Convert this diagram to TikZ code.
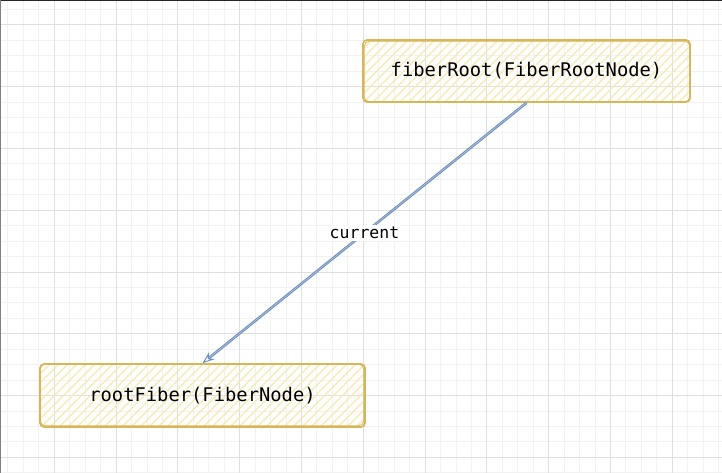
\documentclass[tikz,border=0pt]{standalone}
\usepackage{fontspec}
\setmonofont{DejaVu Sans Mono}
\usetikzlibrary{arrows.meta,calc}
\definecolor{gridminor}{HTML}{F2F2F2}
\definecolor{gridmajor}{HTML}{DFDFDF}
\definecolor{noteline}{HTML}{D6B656}
\definecolor{notehatch}{HTML}{FCE8AE}
\definecolor{linkblue}{HTML}{6C8EBF}
\begin{document}
\begin{tikzpicture}[x=1pt, y=-1pt, font=\ttfamily,
    fibnode/.style={draw=noteline, line width=1.6pt, rounded corners=4pt, inner sep=0pt,
      minimum width=327pt, minimum height=62pt, font=\fontsize{18.8}{22}\selectfont\ttfamily,
      path picture={\foreach \k in {0,...,45}
        \draw[notehatch, line width=1.2pt] ($(path picture bounding box.south west)+(\k*9pt-80pt,0)$) -- ++(80pt,80pt);}},
    sketchline/.style={draw=noteline, line width=0.8pt, rounded corners=5pt},
    linkarr/.style={-{Stealth[open, length=12pt, width=9pt]}, draw=linkblue, line width=1pt,
      double=linkblue!50, double distance=0.6pt},
    linklabel/.style={fill=white, inner sep=2pt, font=\fontsize{16.5}{20}\selectfont\ttfamily}]
  \useasboundingbox[fill=white] (0,0) rectangle (722,473);
  \foreach \i in {0,...,46} \draw[gridminor] (7.65+\i*15.45,0) -- ++(0,473);
  \foreach \i in {0,...,30} \draw[gridminor] (0,9.05+\i*15.45) -- ++(722,0);
  \foreach \i in {0,...,10} \draw[gridmajor] (54+\i*61.8,0) -- ++(0,473);
  \foreach \i in {0,...,7} \draw[gridmajor] (0,24.5+\i*61.8) -- ++(722,0);
  \draw[black!85, line width=1.5pt] (0,0.75) -- (722,0.75);
  \draw[gray, line width=1.2pt] (0.6,0) -- (0.6,473);

  \node[fibnode] (fiberroot) at (526.5,71) {fiberRoot(FiberRootNode)};
  \node[fibnode, minimum width=325pt, minimum height=63pt] (rootfiber) at (202.5,395.5) {rootFiber(FiberNode)};
  \draw[sketchline] ($(fiberroot.south west)+(2,-1)$) rectangle ($(fiberroot.north east)+(-1,2)$);
  \draw[sketchline] ($(rootfiber.south west)+(1,-2)$) rectangle ($(rootfiber.north east)+(-2,1)$);
  \draw[linkarr] (fiberroot.south) -- node[linklabel] {current} (rootfiber.north);
\end{tikzpicture}
\end{document}
